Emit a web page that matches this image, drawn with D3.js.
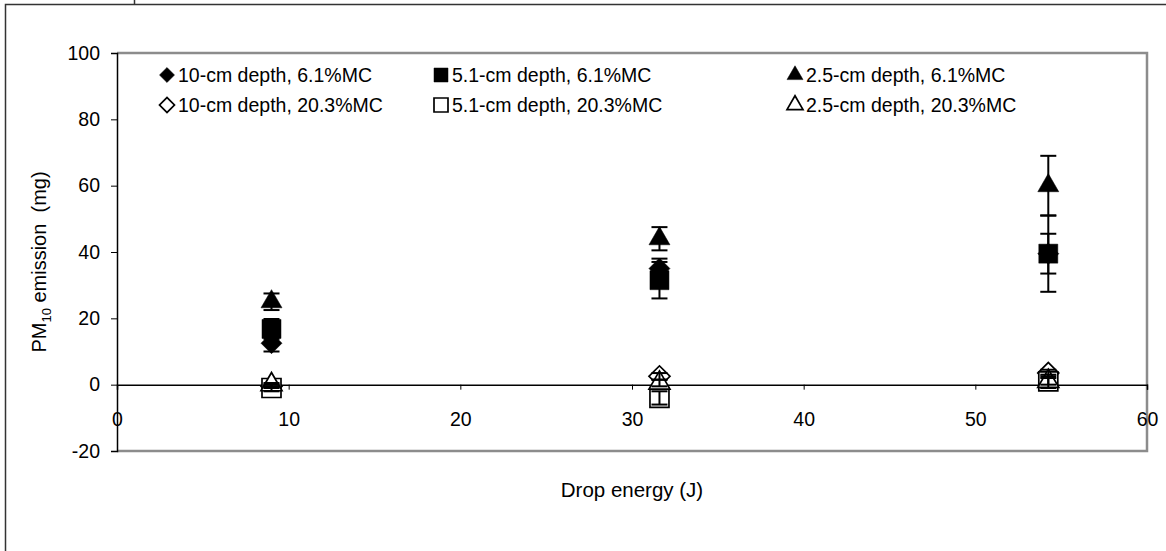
<!DOCTYPE html>
<html lang="en">
<head>
    <meta charset="UTF-8">
    <title>PM10 emission vs drop energy</title>
    <style>
        body { margin: 0; padding: 0; background: #fff; overflow: hidden; }
        svg { display: block; font-family: "Liberation Sans", Arial, sans-serif; }
    </style>
</head>
<body>
<svg id="chart" width="1166" height="551"></svg>
<script src="https://cdn.jsdelivr.net/npm/d3@7"></script>
<script>
    // drop energy (J) for the three drop heights
    const energy = [9.0, 31.6, 54.25];

    const seriesNames = [
        "10-cm depth, 6.1%MC", "5.1-cm depth, 6.1%MC", "2.5-cm depth, 6.1%MC",
        "10-cm depth, 20.3%MC", "5.1-cm depth, 20.3%MC", "2.5-cm depth, 20.3%MC"
    ];
    // PM10 emission (mg), mean values
    const d10dry = [12.5, 35, 39.5];
    const d51dry = [16.8, 31.5, 39.5];
    const d25dry = [25, 44, 60];
    const d10wet = [-0.5, 2.5, 3.5];
    const d51wet = [-1, -4, 1];
    const d25wet = [0, 0.5, 1];
    // error bar half widths (mg)
    const e10dry = [2.5, 3, 6];
    const e51dry = [3, 5.5, 11.5];
    const e25dry = [2.5, 3.5, 9];
    const e10wet = [0.5, 1, 1];
    const e51wet = [1, 2, 2];
    const e25wet = [0.5, 1, 1];

    const yTicks = [-20, 0, 20, 40, 60, 80, 100];
    const xTicks = [0, 10, 20, 30, 40, 50, 60];

    const series = [
        {name: seriesNames[0], vals: d10dry, err: e10dry, shape: "diamond", fill: "#000"},
        {name: seriesNames[1], vals: d51dry, err: e51dry, shape: "square", fill: "#000"},
        {name: seriesNames[2], vals: d25dry, err: e25dry, shape: "triangle", fill: "#000"},
        {name: seriesNames[3], vals: d10wet, err: e10wet, shape: "diamond", fill: "#fff"},
        {name: seriesNames[4], vals: d51wet, err: e51wet, shape: "square", fill: "#fff"},
        {name: seriesNames[5], vals: d25wet, err: e25wet, shape: "triangle", fill: "#fff"}
    ];

    const svg = d3.select("#chart");
    const mLeft = 117, mRight = 1147, mTop = 53, mBottom = 451;
    const fs = 19.5;

    const x = d3.scaleLinear().domain([0, 60]).range([mLeft, mRight]);
    const y = d3.scaleLinear().domain([-20, 100]).range([mBottom, mTop]);

    // outer frame (cropped chart area)
    svg.append("path")
        .attr("d", `M5.5,551 L5.5,4.5 L1166,4.5`)
        .attr("fill", "none").attr("stroke", "#333").attr("stroke-width", 1.5);
    svg.append("line")
        .attr("x1", 134.5).attr("x2", 134.5).attr("y1", 0).attr("y2", 4)
        .attr("stroke", "#333").attr("stroke-width", 1.5);

    // plot area border (gray top/right/bottom)
    svg.append("path")
        .attr("d", `M${mLeft},${mTop} L${mRight},${mTop} L${mRight},${mBottom} L${mLeft},${mBottom}`)
        .attr("fill", "none").attr("stroke", "#8c8c8c").attr("stroke-width", 2.5);

    // y axis
    const yAxis = svg.append("g")
        .attr("transform", `translate(${mLeft},0)`)
        .call(d3.axisLeft(y).tickValues(yTicks).tickFormat(d => String(d)).tickSize(6).tickPadding(11));
    yAxis.select(".domain").attr("stroke", "#000").attr("stroke-width", 1.5);
    yAxis.attr("font-size", fs).attr("font-family", "Liberation Sans, Arial, sans-serif");
    yAxis.selectAll("text").attr("fill", "#000");

    // x axis sits at y = 0
    const xAxis = svg.append("g")
        .attr("transform", `translate(0,${y(0)})`)
        .call(d3.axisBottom(x).tickValues(xTicks).tickFormat(d => String(d)).tickSizeOuter(0).tickSize(5).tickPadding(22));
    xAxis.select(".domain").attr("stroke", "#000").attr("stroke-width", 1.5);
    xAxis.attr("font-size", fs).attr("font-family", "Liberation Sans, Arial, sans-serif");
    xAxis.selectAll("text").attr("fill", "#000");

    function symbolPath(shape, s) {
        if (shape === "square") return d3.symbol(d3.symbolSquare, s * s)();
        if (shape === "triangle") return d3.symbol(d3.symbolTriangle, s * s * 0.433)();
        return d3.symbol(d3.symbolSquare, s * s * 0.5)();
    }
    const markerSize = {square: 19, triangle: 21, diamond: 21};
    const legendSize = {square: 14, triangle: 16, diamond: 15};

    function drawMarker(g, d, cx, cy, sizes) {
        g.append("path")
            .attr("d", symbolPath(d.shape, sizes[d.shape]))
            .attr("transform", `translate(${cx},${cy})` + (d.shape === "diamond" ? " rotate(45)" : ""))
            .attr("fill", d.fill)
            .attr("stroke", "#000")
            .attr("stroke-width", d.fill === "#000" ? 0.5 : 1.7);
    }

    // markers
    const marks = svg.append("g");
    series.forEach(s => {
        s.vals.forEach((v, i) => drawMarker(marks, s, x(energy[i]), y(v), markerSize));
    });

    // error bars on top
    const bars = svg.append("g").attr("stroke", "#000").attr("stroke-width", 2);
    series.forEach(s => {
        s.vals.forEach((v, i) => {
            const cx = x(energy[i]);
            bars.append("line").attr("x1", cx).attr("x2", cx)
                .attr("y1", y(v - s.err[i])).attr("y2", y(v + s.err[i]));
            [v - s.err[i], v + s.err[i]].forEach(e => {
                bars.append("line").attr("x1", cx - 8).attr("x2", cx + 8)
                    .attr("y1", y(e)).attr("y2", y(e));
            });
        });
    });

    // legend
    const legX = [167, 441, 795];
    const legY = [75, 105];
    const legend = svg.append("g");
    series.forEach((s, i) => {
        const col = i % 3, row = Math.floor(i / 3);
        const lx = legX[col], ly = legY[row];
        drawMarker(legend, s, lx, ly, legendSize);
        legend.append("text")
            .attr("x", lx + 11).attr("y", ly + 7)
            .attr("font-size", fs)
            .text(s.name);
    });

    // axis titles
    svg.append("text")
        .attr("x", 632).attr("y", 497)
        .attr("text-anchor", "middle").attr("font-size", 20.5)
        .text("Drop energy (J)");

    const yt = svg.append("text")
        .attr("transform", `translate(46,262) rotate(-90)`)
        .attr("text-anchor", "middle").attr("font-size", 20)
        .attr("xml:space", "preserve");
    yt.append("tspan").text("PM");
    yt.append("tspan").attr("font-size", 13).attr("dy", 5).text("10");
    yt.append("tspan").attr("dy", -5).text(" emission\u00a0 (mg)");
</script>
</body>
</html>
